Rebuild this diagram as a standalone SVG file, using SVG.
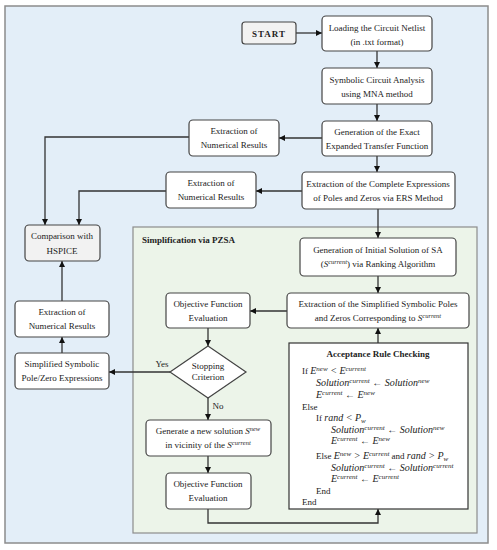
<svg xmlns="http://www.w3.org/2000/svg" width="497" height="550" viewBox="0 0 497 550">
<style>
text{font-family:'Liberation Serif','Times New Roman',Times,serif}
.t{font-size:9px;fill:#222;text-anchor:middle}
.b{font-weight:bold}
.m{font-size:9px;fill:#222}
.i{font-style:italic}
.box{fill:#fff;stroke:#444;stroke-width:1.2}
.gray{fill:#f2f2f2}
.ln{fill:none;stroke:#333;stroke-width:1.3}
.sup{font-size:6.5px}
.mi{font-style:italic;font-size:10px}
.ms{font-style:italic;font-size:7px}
</style>
<defs>
<marker id="ah" viewBox="0 0 10 10" refX="10" refY="5" markerWidth="6" markerHeight="6" orient="auto" markerUnits="userSpaceOnUse">
<path d="M0,0 L10,5 L0,10 z" fill="#111"/>
</marker>
</defs>
<rect x="5" y="6" width="483" height="537" fill="#e3eef8" stroke="#8c8c8c" stroke-width="1.5"/>
<rect id="pzsa" x="133" y="227" width="344" height="306" fill="#ecf4e9" stroke="#8c8c8c" stroke-width="1.2"/>
<text class="t b" x="142" y="243" style="text-anchor:start">Simplification via PZSA</text>

<g id="connectors" class="ln">
<line x1="296" y1="33" x2="322" y2="33" marker-end="url(#ah)"/>
<line x1="377" y1="51" x2="377" y2="68" marker-end="url(#ah)"/>
<line x1="377" y1="104" x2="377" y2="121" marker-end="url(#ah)"/>
<line x1="322" y1="138" x2="279" y2="138" marker-end="url(#ah)"/>
<line x1="377" y1="156" x2="377" y2="172" marker-end="url(#ah)"/>
<line x1="302" y1="191" x2="256" y2="191" marker-end="url(#ah)"/>
<polyline points="189,137 45,137 45,225" marker-end="url(#ah)"/>
<polyline points="166,191 79,191 79,225" marker-end="url(#ah)"/>
<line x1="378" y1="209" x2="378" y2="238" marker-end="url(#ah)"/>
<line x1="378" y1="276" x2="378" y2="293" marker-end="url(#ah)"/>
<line x1="287" y1="311" x2="250" y2="311" marker-end="url(#ah)"/>
<line x1="208" y1="328" x2="208" y2="346" marker-end="url(#ah)"/>
<line x1="170" y1="372" x2="109" y2="372" marker-end="url(#ah)"/>
<line x1="208" y1="398" x2="208" y2="420" marker-end="url(#ah)"/>
<line x1="208" y1="456" x2="208" y2="473" marker-end="url(#ah)"/>
<polyline points="208,509 208,523 378,523 378,509" marker-end="url(#ah)"/>
<line x1="378" y1="343" x2="378" y2="328" marker-end="url(#ah)"/>
<line x1="62" y1="353" x2="62" y2="337" marker-end="url(#ah)"/>
<line x1="62" y1="301" x2="62" y2="261" marker-end="url(#ah)"/>
</g>
<text class="t" x="162" y="367">Yes</text>
<text class="t" x="218" y="409">No</text>

<g id="start"><rect class="box gray" x="242" y="22" width="54" height="22" rx="3"/><text class="t b" x="269" y="36.5" style="letter-spacing:1px">START</text></g>
<g id="load"><rect class="box" x="322" y="16" width="110" height="35" rx="4"/><text class="t" x="377" y="31">Loading the Circuit Netlist</text><text class="t" x="377" y="45">(in .txt format)</text></g>
<g id="sca"><rect class="box" x="322" y="68" width="110" height="36" rx="4"/><text class="t" x="377" y="83">Symbolic Circuit Analysis</text><text class="t" x="377" y="97">using MNA method</text></g>
<g id="gen"><rect class="box" x="322" y="121" width="110" height="35" rx="4"/><text class="t" x="377" y="135">Generation of the Exact</text><text class="t" x="377" y="149">Expanded Transfer Function</text></g>
<g id="ext"><rect class="box" x="302" y="172" width="153" height="37" rx="4"/><text class="t" x="378" y="187">Extraction of the Complete Expressions</text><text class="t" x="378" y="201">of Poles and Zeros via ERS Method</text></g>
<g id="num1"><rect class="box" x="189" y="120" width="90" height="36" rx="4"/><text class="t" x="234" y="134">Extraction of</text><text class="t" x="234" y="148">Numerical Results</text></g>
<g id="num2"><rect class="box" x="166" y="172" width="90" height="36" rx="4"/><text class="t" x="211" y="186">Extraction of</text><text class="t" x="211" y="200">Numerical Results</text></g>
<g id="cmp"><rect class="box gray" x="25" y="225" width="75" height="36" rx="4"/><text class="t" x="62" y="239">Comparison with</text><text class="t" x="62" y="254">HSPICE</text></g>
<g id="init"><rect class="box" x="300" y="238" width="156" height="38" rx="4"/><text class="t" x="378" y="253">Generation of Initial Solution of SA</text><text class="t" x="378" y="267">(<tspan class="i">S</tspan><tspan class="i sup" dy="-3.5" font-size="7">current</tspan><tspan dy="3.5">) via Ranking Algorithm</tspan></text></g>
<g id="simp"><rect class="box" x="287" y="293" width="182" height="35" rx="4"/><text class="t" x="378" y="307">Extraction of the Simplified Symbolic Poles</text><text class="t" x="378" y="321">and Zeros Corresponding to <tspan class="i">S</tspan><tspan class="i sup" dy="-3.5" font-size="7">current</tspan></text></g>
<g id="obj1"><rect class="box" x="166" y="293" width="84" height="35" rx="4"/><text class="t" x="208" y="307">Objective Function</text><text class="t" x="208" y="321">Evaluation</text></g>
<g id="stop"><polygon class="box" points="208,346 246,372 208,398 170,372"/><text class="t" x="208" y="369">Stopping</text><text class="t" x="208" y="380">Criterion</text></g>
<g id="num3"><rect class="box" x="15" y="301" width="94" height="36" rx="4"/><text class="t" x="62" y="315">Extraction of</text><text class="t" x="62" y="329">Numerical Results</text></g>
<g id="spz"><rect class="box" x="15" y="353" width="94" height="36" rx="4"/><text class="t" x="62" y="367">Simplified Symbolic</text><text class="t" x="62" y="381">Pole/Zero Expressions</text></g>
<g id="gennew"><rect class="box" x="146" y="420" width="125" height="36" rx="4"/><text class="t" x="208" y="434">Generate a new solution <tspan class="i">S</tspan><tspan class="i sup" dy="-3.5">new</tspan></text><text class="t" x="208" y="448">in vicinity of the <tspan class="i">S</tspan><tspan class="i sup" dy="-3.5">current</tspan></text></g>
<g id="obj2"><rect class="box" x="166" y="473" width="85" height="36" rx="4"/><text class="t" x="208" y="487">Objective Function</text><text class="t" x="208" y="501">Evaluation</text></g>
<g id="accept">
<rect x="289" y="343" width="179" height="166" fill="#fff" stroke="#333" stroke-width="1.2"/>
<text class="t b" x="378" y="357">Acceptance Rule Checking</text>
<text class="m" x="302" y="374">If <tspan class="mi">E</tspan><tspan class="ms" dy="-3.5">new</tspan><tspan class="mi" dy="3.5"> &lt; E</tspan><tspan class="ms" dy="-3.5">current</tspan></text>
<text class="m" x="316" y="386"><tspan class="mi">Solution</tspan><tspan class="ms" dy="-3.5">current</tspan><tspan class="mi" dy="3.5"> ← Solution</tspan><tspan class="ms" dy="-3.5">new</tspan></text>
<text class="m" x="316" y="398"><tspan class="mi">E</tspan><tspan class="ms" dy="-3.5">current</tspan><tspan class="mi" dy="3.5"> ← E</tspan><tspan class="ms" dy="-3.5">new</tspan></text>
<text class="m" x="302" y="410">Else</text>
<text class="m" x="316" y="421">If <tspan class="mi">rand &lt; P</tspan><tspan class="ms" dy="2">w</tspan></text>
<text class="m" x="331" y="433"><tspan class="mi">Solution</tspan><tspan class="ms" dy="-3.5">current</tspan><tspan class="mi" dy="3.5"> ← Solution</tspan><tspan class="ms" dy="-3.5">new</tspan></text>
<text class="m" x="331" y="444"><tspan class="mi">E</tspan><tspan class="ms" dy="-3.5">current</tspan><tspan class="mi" dy="3.5"> ← E</tspan><tspan class="ms" dy="-3.5">new</tspan></text>
<text class="m" x="316" y="459">Else  <tspan class="mi">E</tspan><tspan class="ms" dy="-3.5">new</tspan><tspan class="mi" dy="3.5"> &gt; E</tspan><tspan class="ms" dy="-3.5">current</tspan><tspan dy="3.5"> and </tspan><tspan class="mi">rand &gt; P</tspan><tspan class="ms" dy="2">w</tspan></text>
<text class="m" x="331" y="471"><tspan class="mi">Solution</tspan><tspan class="ms" dy="-3.5">current</tspan><tspan class="mi" dy="3.5"> ← Solution</tspan><tspan class="ms" dy="-3.5">current</tspan></text>
<text class="m" x="331" y="482"><tspan class="mi">E</tspan><tspan class="ms" dy="-3.5">current</tspan><tspan class="mi" dy="3.5"> ← E</tspan><tspan class="ms" dy="-3.5">current</tspan></text>
<text class="m" x="316" y="494">End</text>
<text class="m" x="302" y="505">End</text>
</g>
</svg>
